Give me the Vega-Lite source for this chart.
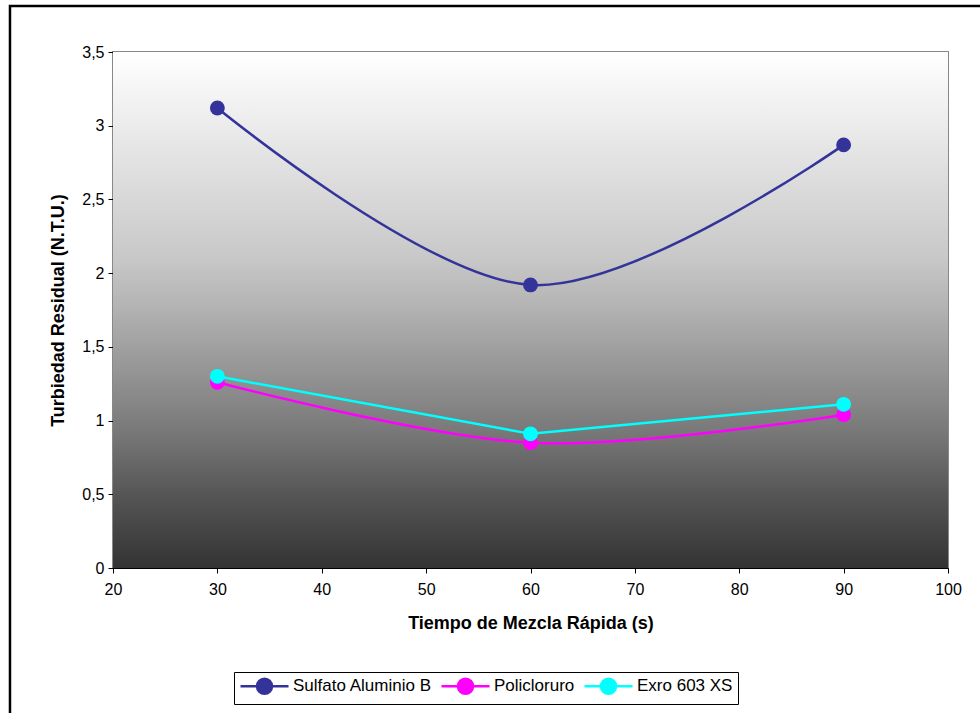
{
  "$schema": "https://vega.github.io/schema/vega-lite/v6.json",
  "width": 835,
  "height": 516,
  "autosize": {"type": "none"},
  "padding": {"left": 113, "top": 52, "right": 32, "bottom": 145},
  "background": "white",
  "config": {
    "locale": {"number": {"decimal": ",", "thousands": ".", "grouping": [3], "currency": ["", "€"]}},
    "font": "Liberation Sans",
    "view": {"stroke": "#888888", "strokeWidth": 2},
    "axis": {
      "grid": false,
      "domainColor": "#000000",
      "domainWidth": 1,
      "tickColor": "#000000",
      "tickSize": 5,
      "labelColor": "#000000",
      "titleColor": "#000000",
      "labelFont": "Liberation Sans",
      "titleFont": "Liberation Sans",
      "labelFontSize": 16,
      "titleFontSize": 18,
      "titleFontWeight": "bold",
      "labelFlush": false,
      "labelOverlap": false,
      "zindex": 1
    }
  },
  "datasets": {
    "series": [
      {"tiempo": 30, "serie": "Sulfato Aluminio B", "turbiedad": 3.12},
      {"tiempo": 60, "serie": "Sulfato Aluminio B", "turbiedad": 1.92},
      {"tiempo": 90, "serie": "Sulfato Aluminio B", "turbiedad": 2.87},
      {"tiempo": 30, "serie": "Policloruro", "turbiedad": 1.26},
      {"tiempo": 60, "serie": "Policloruro", "turbiedad": 0.85},
      {"tiempo": 90, "serie": "Policloruro", "turbiedad": 1.04},
      {"tiempo": 30, "serie": "Exro 603 XS", "turbiedad": 1.30},
      {"tiempo": 60, "serie": "Exro 603 XS", "turbiedad": 0.91},
      {"tiempo": 90, "serie": "Exro 603 XS", "turbiedad": 1.11}
    ]
  },
  "layer": [
    {
      "data": {"values": [{}]},
      "mark": {
        "type": "rect",
        "color": {
          "gradient": "linear",
          "x1": 0, "y1": 0, "x2": 0, "y2": 1,
          "stops": [
            {"offset": 0, "color": "#ffffff"},
            {"offset": 0.4, "color": "#c8c8c8"},
            {"offset": 0.49, "color": "#b4b4b4"},
            {"offset": 0.73, "color": "#7a7a7a"},
            {"offset": 0.86, "color": "#555555"},
            {"offset": 1, "color": "#333333"}
          ]
        }
      },
      "encoding": {
        "x": {
          "datum": 20, "type": "quantitative",
          "scale": {"domain": [20, 100], "zero": false, "nice": false},
          "axis": {
            "values": [20, 30, 40, 50, 60, 70, 80, 90, 100],
            "title": "Tiempo de Mezcla Rápida (s)",
            "labelPadding": 8,
            "titleY": 55,
            "titleBaseline": "middle"
          }
        },
        "x2": {"datum": 100},
        "y": {
          "datum": 0, "type": "quantitative",
          "scale": {"domain": [0, 3.5], "zero": false, "nice": false},
          "axis": {
            "values": [0, 0.5, 1, 1.5, 2, 2.5, 3, 3.5],
            "format": ".1~f",
            "title": "Turbiedad Residual (N.T.U.)",
            "labelPadding": 4,
            "titleX": -55,
            "titleBaseline": "middle"
          }
        },
        "y2": {"datum": 3.5}
      }
    },
    {
      "data": {"values": [{}]},
      "mark": {"type": "rect", "fillOpacity": 0, "stroke": "#000000", "strokeWidth": 2.5, "clip": false},
      "encoding": {
        "x": {"datum": 10.13, "type": "quantitative"},
        "x2": {"datum": 104},
        "y": {"datum": 3.812, "type": "quantitative"},
        "y2": {"datum": -1.2}
      }
    },
    {
      "data": {"name": "series"},
      "transform": [{"filter": "datum.serie !== 'Exro 603 XS'"}],
      "mark": {"type": "line", "interpolate": "cardinal", "strokeWidth": 2.5},
      "encoding": {
        "x": {"field": "tiempo", "type": "quantitative"},
        "y": {"field": "turbiedad", "type": "quantitative"},
        "color": {
          "field": "serie", "type": "nominal",
          "scale": {"domain": ["Sulfato Aluminio B", "Policloruro", "Exro 603 XS"], "range": ["#333399", "#ff00ff", "#00ffff"]},
          "legend": {
            "title": null,
            "orient": "none",
            "legendX": 121,
            "legendY": 620,
            "direction": "horizontal",
            "strokeColor": "#000000",
            "fillColor": "#ffffff",
            "padding": 5,
            "symbolType": "M-1,0H5.4M1.2,0A1,1 0 1,0 3.2,0A1,1 0 1,0 1.2,0Z",
            "symbolSize": 225,
            "symbolStrokeWidth": 2.5,
            "labelFontSize": 17,
            "labelFont": "Liberation Sans",
            "labelColor": "#000000",
            "labelOffset": 36,
            "columnPadding": 4,
            "encode": {
              "symbols": {
                "update": {
                  "fill": {"scale": "color", "field": "value"},
                  "stroke": {"scale": "color", "field": "value"},
                  "strokeWidth": {"value": 2.5},
                  "opacity": {"value": 1}
                }
              }
            }
          }
        }
      }
    },
    {
      "data": {"name": "series"},
      "transform": [{"filter": "datum.serie === 'Exro 603 XS'"}],
      "mark": {"type": "line", "interpolate": "linear", "strokeWidth": 2.5},
      "encoding": {
        "x": {"field": "tiempo", "type": "quantitative"},
        "y": {"field": "turbiedad", "type": "quantitative"},
        "color": {"field": "serie", "type": "nominal"}
      }
    },
    {
      "data": {"name": "series"},
      "mark": {"type": "point", "filled": true, "size": 220, "opacity": 1},
      "encoding": {
        "x": {"field": "tiempo", "type": "quantitative"},
        "y": {"field": "turbiedad", "type": "quantitative"},
        "color": {"field": "serie", "type": "nominal"}
      }
    }
  ]
}
